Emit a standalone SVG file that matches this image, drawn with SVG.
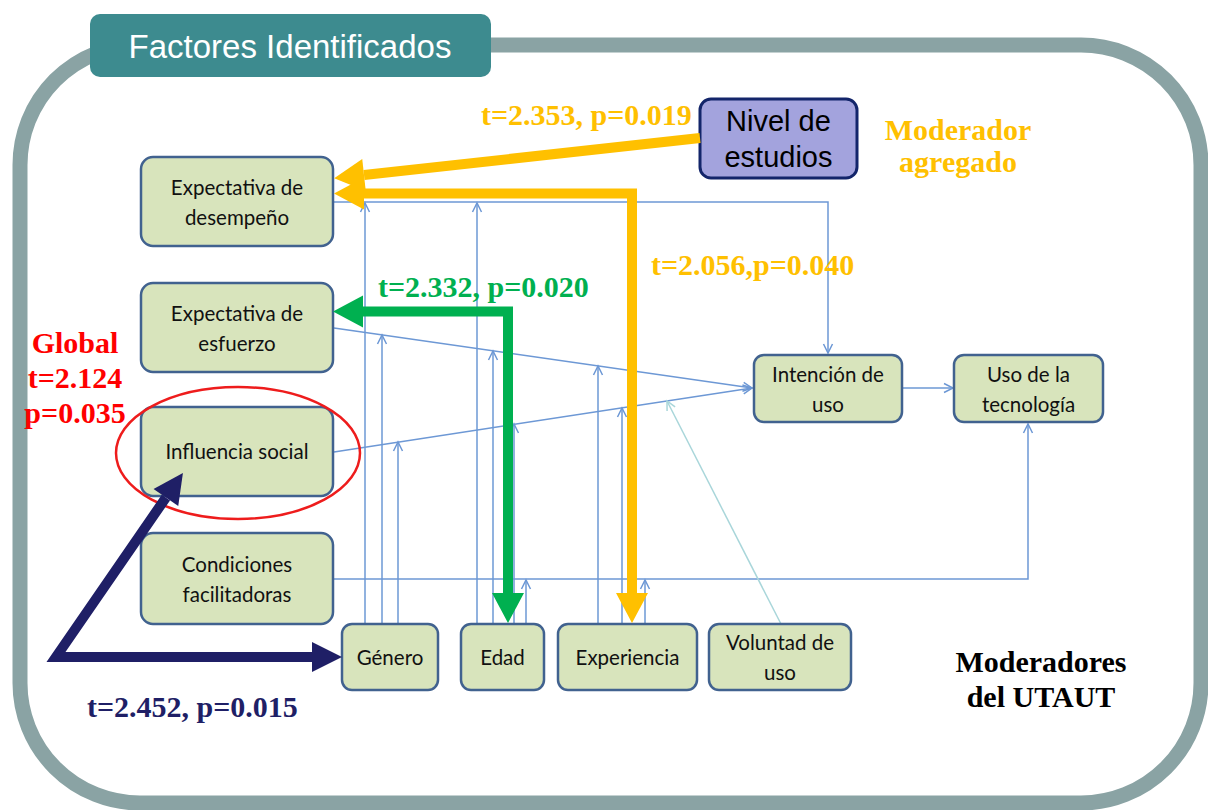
<svg xmlns="http://www.w3.org/2000/svg" width="1208" height="810" viewBox="0 0 1208 810">
<style>
.node rect{fill:#D8E4BC;stroke:#41628F;stroke-width:2.5}
.node text{font-family:Lato,"Liberation Sans",sans-serif;font-size:20.5px;fill:#111;text-anchor:middle}
.thin{fill:none;stroke:#6D98D5;stroke-width:1.5}
.lab{font-family:"Liberation Serif",serif;font-weight:bold;font-size:30px}
</style>
<defs>
<marker id="ah" markerUnits="userSpaceOnUse" markerWidth="12" markerHeight="12" refX="10" refY="5" orient="auto" overflow="visible">
<path d="M1,0.5 L10,5 L1,9.5" fill="none" stroke="#6D98D5" stroke-width="1.5"/>
</marker>
<marker id="ahc" markerUnits="userSpaceOnUse" markerWidth="12" markerHeight="12" refX="10" refY="5" orient="auto" overflow="visible">
<path d="M1,0.5 L10,5 L1,9.5" fill="none" stroke="#A9D6DA" stroke-width="1.5"/>
</marker>
<marker id="hy" markerUnits="userSpaceOnUse" markerWidth="31" markerHeight="33" refX="0" refY="16" orient="auto-start-reverse" overflow="visible">
<path d="M0,0 L30,16 L0,32 z" fill="#FFC000"/>
</marker>
<marker id="hg" markerUnits="userSpaceOnUse" markerWidth="31" markerHeight="33" refX="0" refY="16" orient="auto-start-reverse" overflow="visible">
<path d="M0,0 L30,16 L0,32 z" fill="#00B050"/>
</marker>
<marker id="hn" markerUnits="userSpaceOnUse" markerWidth="31" markerHeight="33" refX="0" refY="15" orient="auto-start-reverse" overflow="visible">
<path d="M0,0 L30,15 L0,30 z" fill="#1F1F66"/>
</marker>
</defs>

<g id="frame">
<rect x="20" y="45" width="1181" height="758" rx="120" ry="120" fill="#fff" stroke="#8AA3A4" stroke-width="15"/>
<rect x="90" y="14" width="401" height="63" rx="10" fill="#3D8B8F"/>
<text x="290" y="58" font-family="'Liberation Sans',Arial,sans-serif" font-size="33" fill="#fff" text-anchor="middle">Factores Identificados</text>
</g>

<g id="connectors">
<path class="thin" d="M334,202 H828 V353" marker-end="url(#ah)"/>
<path class="thin" d="M334,328 L752,388" marker-end="url(#ah)"/>
<path class="thin" d="M334,452 L752,388" marker-end="url(#ah)"/>
<path class="thin" d="M334,579 H1028 V424" marker-end="url(#ah)"/>
<path class="thin" d="M902,388 H953" marker-end="url(#ah)"/>
<path class="thin" d="M365,624 V203" marker-end="url(#ah)"/>
<path class="thin" d="M382,624 V335" marker-end="url(#ah)"/>
<path class="thin" d="M398,624 V442" marker-end="url(#ah)"/>
<path class="thin" d="M477,624 V203" marker-end="url(#ah)"/>
<path class="thin" d="M493,624 V351" marker-end="url(#ah)"/>
<path class="thin" d="M514,624 V424" marker-end="url(#ah)"/>
<path class="thin" d="M526,624 V580" marker-end="url(#ah)"/>
<path class="thin" d="M598,624 V366" marker-end="url(#ah)"/>
<path class="thin" d="M622,624 V408" marker-end="url(#ah)"/>
<path class="thin" d="M645,624 V580" marker-end="url(#ah)"/>
<path d="M781,624 L667,401" fill="none" stroke="#A9D6DA" stroke-width="1.5" marker-end="url(#ahc)"/>
</g>

<g id="n-desempeno" class="node"><rect x="141" y="157" width="192" height="89" rx="12"/><text x="237" y="195">Expectativa de</text><text x="237" y="225">desempeño</text></g>
<g id="n-esfuerzo" class="node"><rect x="141" y="283" width="192" height="89" rx="12"/><text x="237" y="321">Expectativa de</text><text x="237" y="351">esfuerzo</text></g>
<g id="n-influencia" class="node"><rect x="141" y="407" width="192" height="89" rx="12"/><text x="237" y="459">Influencia social</text></g>
<g id="n-condiciones" class="node"><rect x="141" y="533" width="192" height="91" rx="12"/><text x="237" y="572">Condiciones</text><text x="237" y="602">facilitadoras</text></g>
<g id="n-genero" class="node"><rect x="342" y="624" width="96" height="66" rx="10"/><text x="390" y="665">Género</text></g>
<g id="n-edad" class="node"><rect x="461" y="624" width="83" height="66" rx="10"/><text x="502.5" y="665">Edad</text></g>
<g id="n-experiencia" class="node"><rect x="558" y="624" width="139" height="66" rx="10"/><text x="627.5" y="665">Experiencia</text></g>
<g id="n-voluntad" class="node"><rect x="709" y="624" width="142" height="66" rx="10"/><text x="780" y="650">Voluntad de</text><text x="780" y="680">uso</text></g>
<g id="n-intencion" class="node"><rect x="754" y="355" width="148" height="67" rx="10"/><text x="828" y="382">Intención de</text><text x="828" y="412">uso</text></g>
<g id="n-uso" class="node"><rect x="954" y="355" width="149" height="67" rx="10"/><text x="1028.5" y="382">Uso de la</text><text x="1028.5" y="412">tecnología</text></g>
<g id="n-nivel"><rect x="700" y="99" width="157" height="79" rx="11" fill="#A3A3DD" stroke="#13256A" stroke-width="3"/><text x="778.5" y="131" font-family="'Liberation Sans',Arial,sans-serif" font-size="29" fill="#000" text-anchor="middle">Nivel de</text><text x="778.5" y="167" font-family="'Liberation Sans',Arial,sans-serif" font-size="29" fill="#000" text-anchor="middle">estudios</text></g>

<g id="highlight">
<ellipse cx="238" cy="453" rx="122" ry="66" fill="none" stroke="#EE1C1C" stroke-width="2.5"/>
</g>

<g id="thick-arrows">
<path d="M700,138 L364,175" fill="none" stroke="#FFC000" stroke-width="10" marker-end="url(#hy)"/>
<path d="M632,593 L632,193.5 L364,193.5" fill="none" stroke="#FFC000" stroke-width="10" stroke-linejoin="miter" marker-start="url(#hy)" marker-end="url(#hy)"/>
<path d="M508,593 L508,311.5 L363,311.5" fill="none" stroke="#00B050" stroke-width="10" stroke-linejoin="miter" marker-start="url(#hg)" marker-end="url(#hg)"/>
<path d="M165.9,497.6 L56,657 L312,657" fill="none" stroke="#1F1F66" stroke-width="10" stroke-linejoin="miter" marker-start="url(#hn)" marker-end="url(#hn)"/>
</g>

<g id="labels">
<text class="lab" x="481" y="125" fill="#FFC000">t=2.353, p=0.019</text>
<text class="lab" x="958" y="140" fill="#FFC000" text-anchor="middle">Moderador</text>
<text class="lab" x="958" y="172" fill="#FFC000" text-anchor="middle">agregado</text>
<text class="lab" x="651" y="275" fill="#FFC000">t=2.056,p=0.040</text>
<text class="lab" x="378" y="297" fill="#00B050">t=2.332, p=0.020</text>
<text class="lab" x="75" y="353" fill="#FF0000" text-anchor="middle">Global</text>
<text class="lab" x="75" y="388" fill="#FF0000" text-anchor="middle">t=2.124</text>
<text class="lab" x="75" y="423" fill="#FF0000" text-anchor="middle">p=0.035</text>
<text class="lab" x="87" y="717" fill="#1F1F66">t=2.452, p=0.015</text>
<text class="lab" x="1041" y="672" fill="#000" text-anchor="middle">Moderadores</text>
<text class="lab" x="1041" y="707" fill="#000" text-anchor="middle">del UTAUT</text>
</g>
</svg>
